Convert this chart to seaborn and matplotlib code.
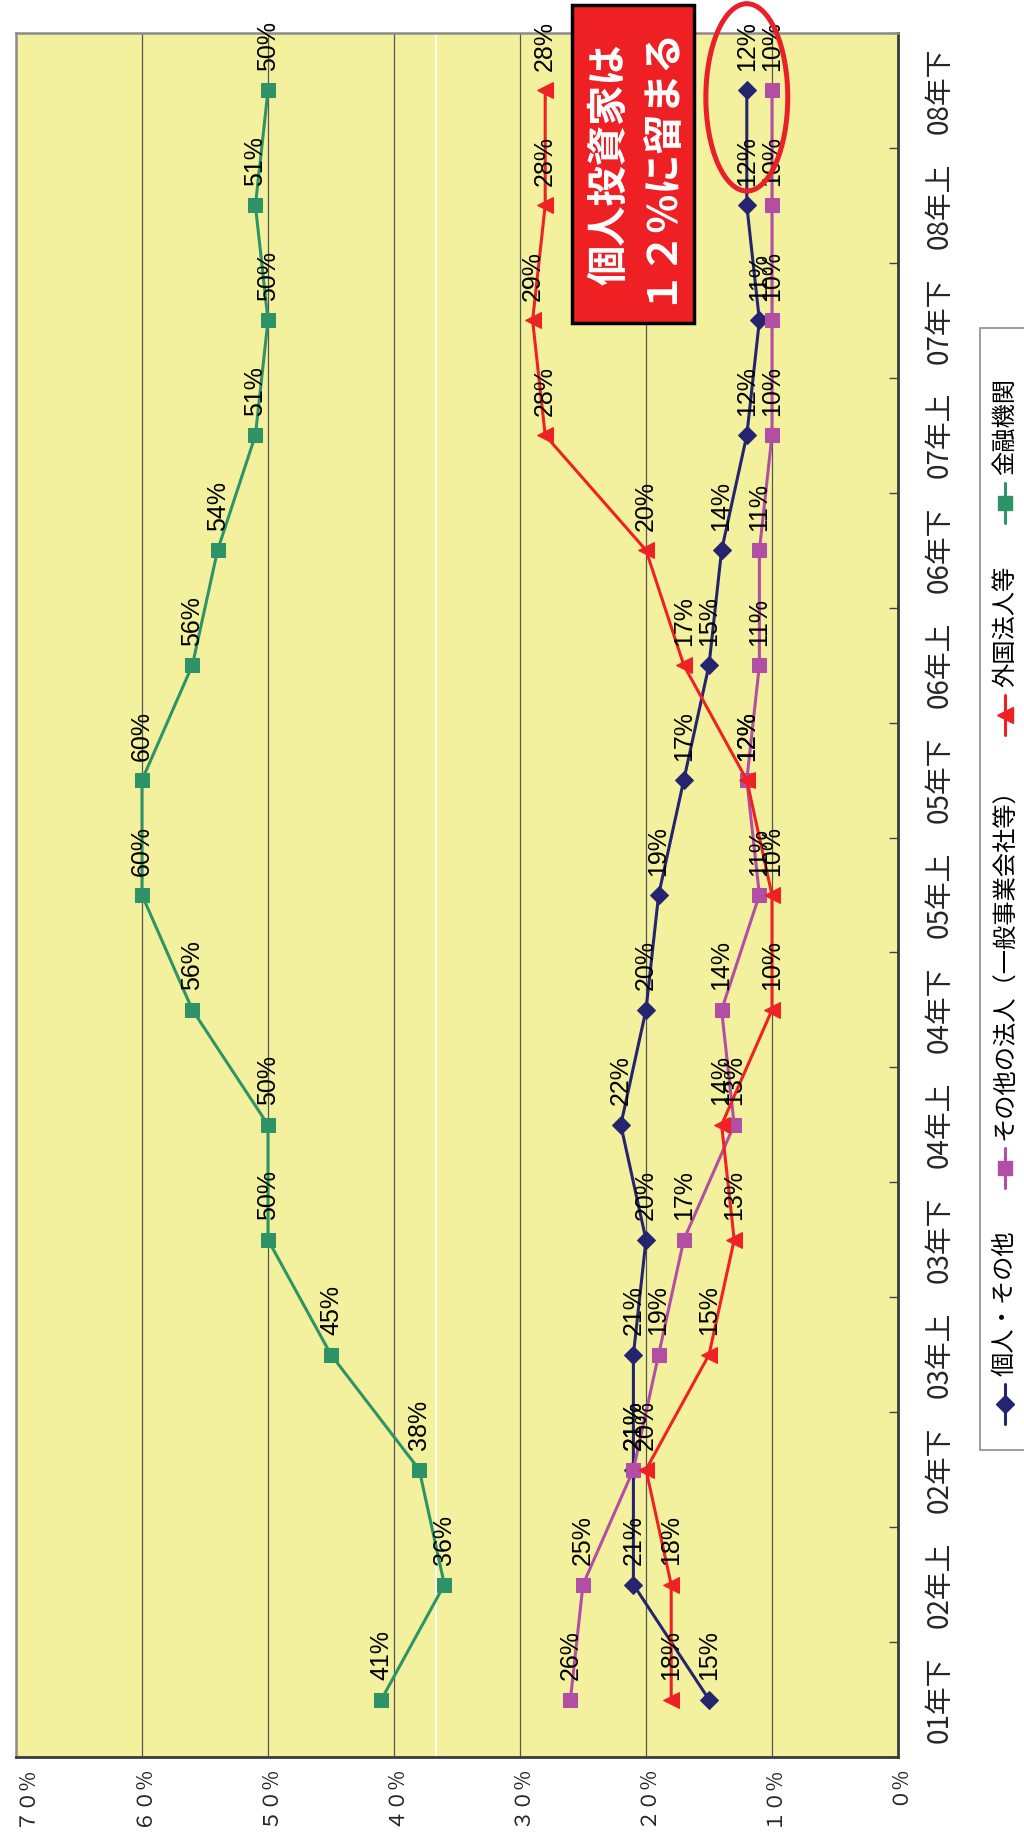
import numpy as np
import pandas as pd
import matplotlib
matplotlib.use("Agg")
import matplotlib.pyplot as plt
import matplotlib.transforms as mtransforms
import seaborn as sns
from matplotlib import font_manager
from matplotlib.patches import Ellipse, Rectangle
from matplotlib.lines import Line2D

# ---- data -------------------------------------------------------------
periods = ["01年下", "02年上", "02年下", "03年上", "03年下", "04年上", "04年下",
           "05年上", "05年下", "06年上", "06年下", "07年上", "07年下", "08年上", "08年下"]
individuals = [15, 21, 21, 21, 20, 22, 20, 19, 17, 15, 14, 12, 11, 12, 12]
other_corps = [26, 25, 21, 19, 17, 13, 14, 11, 12, 11, 11, 10, 10, 10, 10]
foreigners = [18, 18, 20, 15, 13, 14, 10, 10, 12, 17, 20, 28, 29, 28, 28]
financials = [41, 36, 38, 45, 50, 50, 56, 60, 60, 56, 54, 51, 50, 51, 50]
series_names = ["個人・その他", "その他の法人（一般事業会社等）", "外国法人等", "金融機関"]
value_ticks = [0, 10, 20, 30, 40, 50, 60, 70]
value_tick_labels = ["０%", "１０%", "２０%", "３０%", "４０%", "５０%", "６０%", "７０%"]
callout_text = "個人投資家は\n１２%に留まる"

# ---- style ------------------------------------------------------------
sns.set_theme(style="white")
plt.rcParams["font.family"] = ["Noto Sans CJK JP", "DejaVu Sans"]

installed = {f.name for f in font_manager.fontManager.ttflist}
if "Liberation Sans Narrow" in installed:
    label_family, label_size = ["Liberation Sans Narrow", "DejaVu Sans"], 20
else:
    label_family, label_size = ["Liberation Sans", "DejaVu Sans"], 18

colors = ["#25256F", "#B24FA4", "#EE2224", "#2E9467"]
markers = ["D", "s", "<", "s"]
msizes = [9, 10, 11, 9.5]
plot_bg = "#F4F19E"

W, H = 1024, 1834
fig = plt.figure(figsize=(W / 100, H / 100), dpi=100)
fig.patch.set_facecolor("white")


def fx(px):
    return px / W


def fy(py):
    return 1 - py / H


ax = fig.add_axes([fx(16), fy(1757), fx(898) - fx(16), (1757 - 33) / H])
ax.set_facecolor(plot_bg)

pos = np.arange(len(periods))
frame = pd.DataFrame({"pos": pos,
                      series_names[0]: individuals,
                      series_names[1]: other_corps,
                      series_names[2]: foreigners,
                      series_names[3]: financials})

# ---- series (value runs right-to-left, periods bottom-to-top) ----------
for k, name in enumerate(series_names):
    sns.lineplot(data=frame, x=name, y="pos", sort=False, estimator=None,
                 color=colors[k], lw=2.2, marker=markers[k], markersize=msizes[k],
                 markeredgecolor=colors[k], markerfacecolor=colors[k],
                 ax=ax, zorder=3 + k, legend=False)
    for i, v in enumerate(frame[name]):
        ax.annotate(f"{v}%", xy=(v, i), xytext=(0, 14), textcoords="offset points",
                    rotation=90, ha="center", va="bottom", fontsize=label_size,
                    family=label_family, color="black", zorder=10)

ax.set_xlim(70, 0)
ax.set_ylim(-0.5, len(periods) - 0.5)
ax.set_xlabel("")
ax.set_ylabel("")

ax.set_xticks(value_ticks)
ax.set_xticklabels(value_tick_labels, rotation=90, fontsize=15)
ax.tick_params(axis="x", length=0, pad=6)
# keep the outermost value label inside the figure edge
last = ax.get_xticklabels()[-1]
last.set_transform(last.get_transform() +
                   mtransforms.ScaledTranslation(9 / 100, 0, fig.dpi_scale_trans))

ax.yaxis.tick_right()
ax.set_yticks(pos)
ax.set_yticklabels(periods, rotation=90, fontsize=20, va="center")
ax.tick_params(axis="y", which="major", length=0, pad=19, right=False, left=False)
ax.set_yticks(np.arange(-0.5, len(periods), 1), minor=True)
ax.tick_params(axis="y", which="minor", direction="in", length=6.5, width=1,
               color="#444444", right=True, left=False)

ax.grid(False)
for g in value_ticks[1:-1]:
    ax.axvline(g, color="#555555", lw=0.9, zorder=1)
ax.axvline(36.7, color="white", lw=1.2, zorder=1)

for side in ["top", "left"]:
    ax.spines[side].set_color("#8C8C8C")
    ax.spines[side].set_linewidth(1.8)
for side in ["right", "bottom"]:
    ax.spines[side].set_color("#3A3A3A")
    ax.spines[side].set_linewidth(2.0)

# ---- ring around the latest individual-investor points -----------------
n = len(periods)
ring_center = (np.mean(individuals[-2:]), n - 1.06)
ax.add_patch(Ellipse(ring_center, width=6.5, height=1.63, fill=False,
                     edgecolor="#E8202A", lw=3.6, clip_on=False, zorder=12))

# ---- callout box --------------------------------------------------------
fig.patches.append(Rectangle((fx(572), fy(323)), (694 - 572) / W, (323 - 5) / H,
                             transform=fig.transFigure, facecolor="#EE2024",
                             edgecolor="black", lw=2.5, zorder=20))
fig.text(fx(634), fy(164), callout_text, rotation=90, ha="center", va="center",
         color="white", fontsize=29, fontweight="bold", linespacing=1.2,
         multialignment="center", zorder=21)

# ---- legend, stacked bottom-to-top with rotated entries -----------------
fig.canvas.draw()
renderer = fig.canvas.get_renderer()
leg_x = 1005
marker_y = 1404
half_line = 20
text_gap = 8
item_gap = 42
tops = []
for k, name in enumerate(series_names):
    fig.add_artist(Line2D([fx(leg_x), fx(leg_x)],
                          [fy(marker_y + half_line), fy(marker_y - half_line)],
                          transform=fig.transFigure, color=colors[k], lw=2.2,
                          zorder=31))
    fig.add_artist(Line2D([fx(leg_x)], [fy(marker_y)], transform=fig.transFigure,
                          marker=markers[k], markersize=msizes[k], color=colors[k],
                          lw=0, zorder=32))
    t = fig.text(fx(leg_x), fy(marker_y - half_line - text_gap), name, rotation=90,
                 ha="center", va="bottom", fontsize=17.5, color="black", zorder=32)
    bb = t.get_window_extent(renderer)
    top_px = H - bb.y1
    tops.append(top_px)
    marker_y = top_px - item_gap - half_line

box_top = tops[-1] - 50
box_bottom = 1450
fig.patches.append(Rectangle((fx(980), fy(box_bottom)), (1040 - 980) / W,
                             (box_bottom - box_top) / H, transform=fig.transFigure,
                             facecolor="white", edgecolor="#8C8C8C", lw=1.2,
                             zorder=30))

fig.savefig("out.png", dpi=100)
